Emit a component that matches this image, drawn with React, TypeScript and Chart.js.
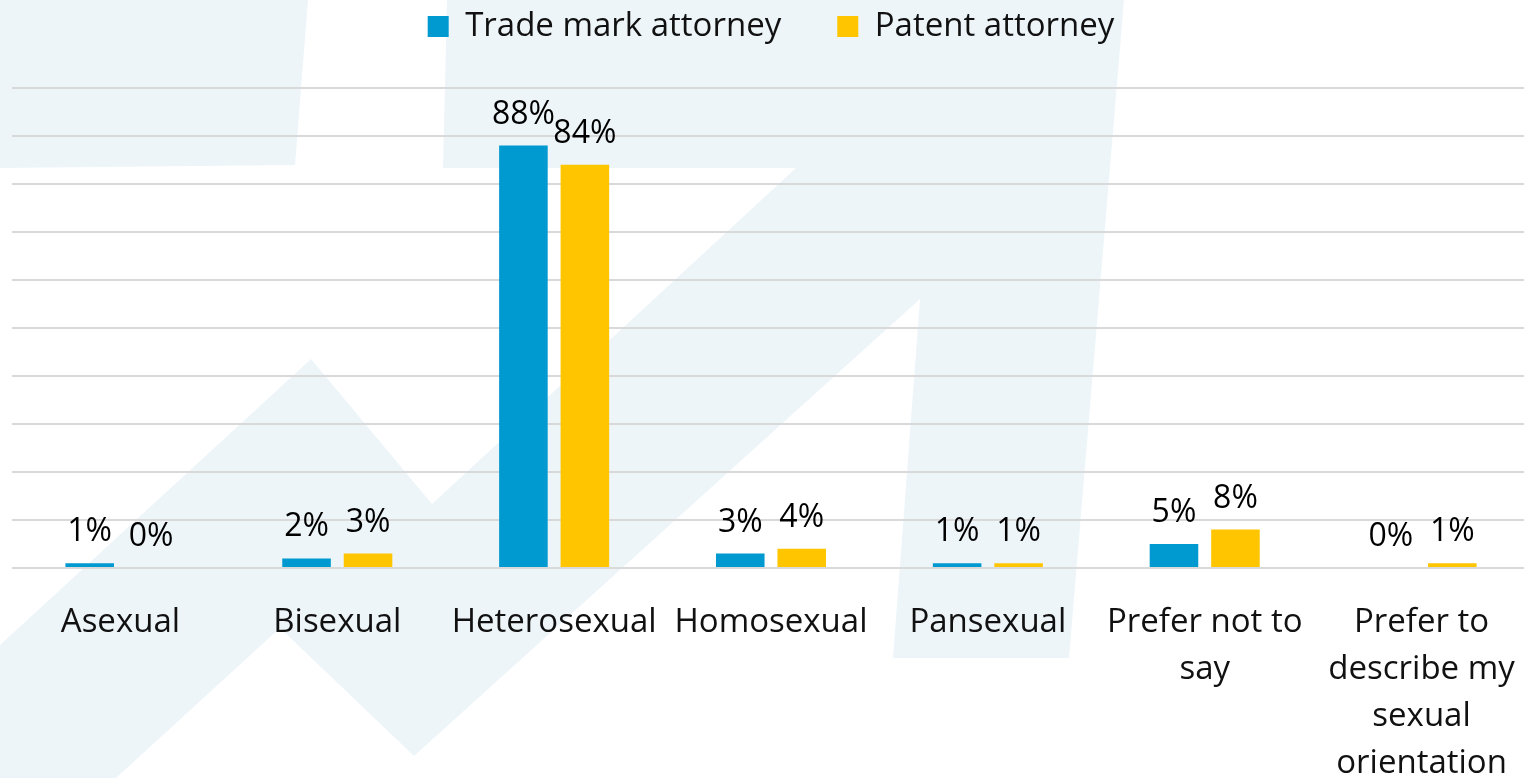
import React, { useEffect, useRef } from "react";
import { Chart, registerables } from "chart.js";

Chart.register(...registerables);

const categories: (string | string[])[] = [
  "Asexual",
  "Bisexual",
  "Heterosexual",
  "Homosexual",
  "Pansexual",
  ["Prefer not to", "say"],
  ["Prefer to", "describe my", "sexual", "orientation"],
];
const tradeMarkValues = [1, 2, 88, 3, 1, 5, 0];
const patentValues = [0, 3, 84, 4, 1, 8, 1];
const seriesNames = ["Trade mark attorney", "Patent attorney"];
const seriesColors = ["#0099D0", "#FFC600"];
const yMin = 0;
const yMax = 100;
const yStep = 10;

const FONT = "'Open Sans', 'Noto Sans', sans-serif";
const WATERMARK = "#EDF5F9";

// decorative background logo shapes (canvas pixels)
const shapeA: [number, number][] = [
  [0, 0], [308, 0], [295, 165], [0, 168],
];
const shapeB: [number, number][] = [
  [447, 0], [1124, 0], [1069, 658], [893, 658], [920, 299],
  [414, 756], [280, 628], [116, 778], [0, 778], [0, 645],
  [311, 359], [432, 504], [796, 168], [443, 168],
];

export default function App() {
  const ref = useRef<HTMLCanvasElement>(null);

  useEffect(() => {
    if (!ref.current) return;

    const watermark = {
      id: "watermark",
      beforeDraw(chart: any) {
        const ctx = chart.ctx;
        ctx.save();
        ctx.fillStyle = WATERMARK;
        for (const shape of [shapeA, shapeB]) {
          ctx.beginPath();
          shape.forEach(([x, y], i) => (i === 0 ? ctx.moveTo(x, y) : ctx.lineTo(x, y)));
          ctx.closePath();
          ctx.fill();
        }
        ctx.restore();
      },
    };

    const legendSpacing = {
      id: "legendSpacing",
      afterInit(chart: any) {
        const legend = chart.legend;
        if (!legend) return;
        const fit = legend.fit;
        legend.fit = function () {
          fit.call(this);
          this.height = 134;
        };
      },
    };

    // the plot runs slightly past the right edge of the picture (cropped)
    const extendX = {
      id: "extendX",
      afterLayout(chart: any) {
        const x = chart.scales.x;
        x.right += 6;
        x.width += 6;
        x.configure();
      },
    };

    const valueLabels = {
      id: "valueLabels",
      afterDatasetsDraw(chart: any) {
        const ctx = chart.ctx;
        ctx.save();
        ctx.font = `32px ${FONT}`;
        ctx.fillStyle = "#000000";
        ctx.textAlign = "center";
        ctx.textBaseline = "alphabetic";
        chart.data.datasets.forEach((ds: any, di: number) => {
          const meta = chart.getDatasetMeta(di);
          meta.data.forEach((bar: any, i: number) => {
            const v = ds.data[i];
            ctx.fillText(`${v}%`, bar.x, bar.y - 22);
          });
        });
        ctx.restore();
      },
    };

    const chart = new Chart(ref.current, {
      type: "bar",
      data: {
        labels: categories,
        datasets: [
          {
            label: seriesNames[0],
            data: tradeMarkValues,
            backgroundColor: seriesColors[0],
            categoryPercentage: 0.567,
            barPercentage: 0.79,
          },
          {
            label: seriesNames[1],
            data: patentValues,
            backgroundColor: seriesColors[1],
            categoryPercentage: 0.567,
            barPercentage: 0.79,
          },
        ],
      },
      options: {
        animation: false,
        responsive: true,
        maintainAspectRatio: false,
        layout: { padding: { top: -46, left: 12, right: -6, bottom: 0 } },
        plugins: {
          legend: {
            display: true,
            position: "top",
            labels: {
              boxWidth: 21,
              boxHeight: 21,
              padding: 56,
              color: "#111111",
              font: { family: FONT, size: 33 },
            },
          },
          tooltip: { enabled: false },
        },
        scales: {
          x: {
            grid: { display: false, drawTicks: true, tickLength: 31 },
            border: { display: false },
            ticks: {
              autoSkip: false,
              maxRotation: 0,
              minRotation: 0,
              padding: 0,
              color: "#111111",
              font: { family: FONT, size: 33, lineHeight: 47 / 33 },
            },
            afterFit(scale: any) {
              scale.height = 210;
            },
          },
          y: {
            min: yMin,
            max: yMax,
            ticks: { display: false, stepSize: yStep },
            grid: { color: "#D9D9D9", lineWidth: 2, drawTicks: false },
            border: { display: false },
          },
        },
      },
      plugins: [watermark, legendSpacing, extendX, valueLabels],
    } as any);

    return () => chart.destroy();
  }, []);

  return (
    <div style={{ position: "fixed", left: 0, top: 0, width: 1524, height: 778, background: "#ffffff" }}>
      <canvas ref={ref} />
    </div>
  );
}
